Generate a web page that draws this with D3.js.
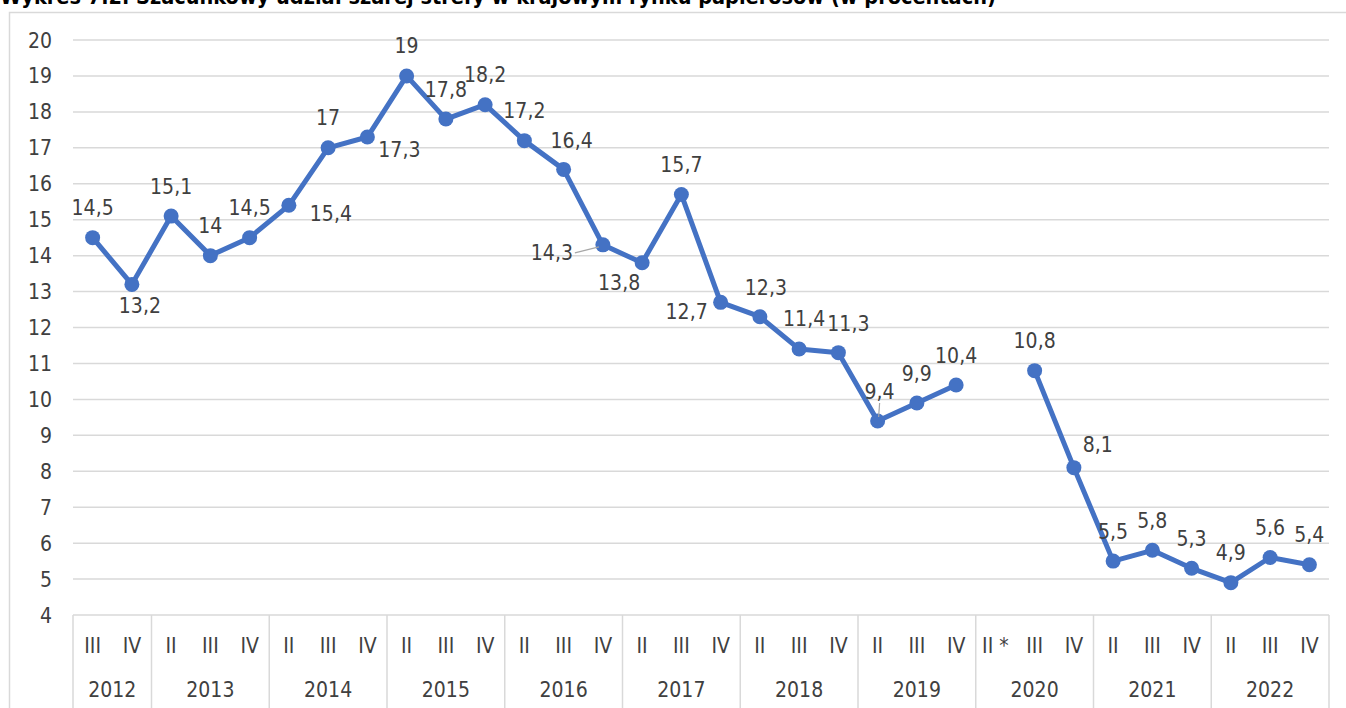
<!DOCTYPE html>
<html>
<head>
  <meta charset="utf-8">
  <title>Szara strefa - rynek papierosów</title>
  <script src="https://cdn.jsdelivr.net/npm/d3@7"></script>
  <style>
    html, body { margin: 0; padding: 0; background: #fff; overflow: hidden; }
    svg { display: block; font-family: "DejaVu Sans Condensed", "DejaVu Sans", sans-serif; }
    .grid line { stroke: #d9d9d9; stroke-width: 1.5; }
    .lbl { fill: #404040; font-size: 21px; }
  </style>
</head>
<body>
  <div id="chart"></div>
  <script>
    // quarters shown for each year, in order
    const years = ["2012", "2013", "2014", "2015", "2016", "2017", "2018", "2019", "2020", "2021", "2022"];
    const yearQuarters = [
      ["III", "IV"],
      ["II", "III", "IV"], ["II", "III", "IV"], ["II", "III", "IV"], ["II", "III", "IV"],
      ["II", "III", "IV"], ["II", "III", "IV"], ["II", "III", "IV"], ["II *", "III", "IV"],
      ["II", "III", "IV"], ["II", "III", "IV"]
    ];
    // share of grey market, % (null = no data)
    const values = [
      14.5, 13.2,
      15.1, 14, 14.5,
      15.4, 17, 17.3,
      19, 17.8, 18.2,
      17.2, 16.4, 14.3,
      13.8, 15.7, 12.7,
      12.3, 11.4, 11.3,
      9.4, 9.9, 10.4,
      null, 10.8, 8.1,
      5.5, 5.8, 5.3,
      4.9, 5.6, 5.4
    ];
    const yTicks = d3.range(4, 21);

    // label placement (offset of label centre from point), default above
    const labelShift = {
      1: [8, 21], 5: [42, 8], 7: [32, 12], 12: [8, -29], 13: [-51, 8], 14: [-23, 20],
      16: [-34, 9], 17: [6, -29], 18: [5, -31], 19: [10, -29], 20: [2, -29], 25: [24, -23]
    };
    const leaders = [13, 20];

    const W = 1346, H = 708;
    const plot = { left: 73, right: 1329, top: 40, bottom: 615 };

    const cats = [];
    yearQuarters.forEach((qs, yi) => qs.forEach(q => cats.push({ year: years[yi], q: q })));
    const data = cats.map((c, i) => ({ i: i, q: c.q, year: c.year, v: values[i] }));

    const svg = d3.select("#chart").append("svg")
      .attr("width", W).attr("height", H);

    // title (cut at the top of the picture, as in the source)
    svg.append("text")
      .attr("x", 0).attr("y", 4)
      .attr("font-size", 21.5).attr("font-weight", "bold").attr("fill", "#000")
      .text("Wykres 7.2. Szacunkowy udział szarej strefy w krajowym rynku papierosów (w procentach)");

    // outer frame
    svg.append("rect")
      .attr("x", 9.5).attr("y", 12.5).attr("width", W).attr("height", H)
      .attr("fill", "none").attr("stroke", "#d9d9d9").attr("stroke-width", 1.5);

    const x = d3.scaleBand().domain(d3.range(cats.length)).range([plot.left, plot.right]);
    const cx = i => x(i) + x.bandwidth() / 2;
    const y = d3.scaleLinear().domain([4, 20]).range([plot.bottom, plot.top]);

    // horizontal gridlines
    svg.append("g").attr("class", "grid")
      .selectAll("line").data(yTicks).join("line")
      .attr("x1", plot.left).attr("x2", plot.right)
      .attr("y1", d => y(d)).attr("y2", d => y(d));

    // y tick labels
    svg.append("g").selectAll("text").data(yTicks).join("text")
      .attr("class", "lbl")
      .attr("x", 52).attr("y", d => y(d)).attr("dy", "0.36em")
      .attr("text-anchor", "end")
      .text(d => d);

    // category axis box: separators between years
    let bounds = [0];
    yearQuarters.forEach(qs => bounds.push(bounds[bounds.length - 1] + qs.length));
    svg.append("g").attr("class", "grid")
      .selectAll("line").data(bounds).join("line")
      .attr("x1", b => plot.left + b * x.bandwidth()).attr("x2", b => plot.left + b * x.bandwidth())
      .attr("y1", plot.bottom).attr("y2", H + 5);

    svg.append("g").selectAll("text").data(data).join("text")
      .attr("class", "lbl")
      .attr("x", d => cx(d.i)).attr("y", 645).attr("dy", "0.36em")
      .attr("text-anchor", "middle")
      .text(d => d.q);

    svg.append("g").selectAll("text").data(years).join("text")
      .attr("class", "lbl")
      .attr("x", (d, k) => plot.left + (bounds[k] + bounds[k + 1]) / 2 * x.bandwidth())
      .attr("y", 689).attr("dy", "0.36em")
      .attr("text-anchor", "middle")
      .text(d => d);

    // the series
    const line = d3.line()
      .defined(d => d.v != null)
      .x(d => cx(d.i)).y(d => y(d.v));

    svg.append("path").datum(data)
      .attr("fill", "none").attr("stroke", "#4472C4").attr("stroke-width", 5)
      .attr("stroke-linejoin", "round")
      .attr("d", line);

    const pts = data.filter(d => d.v != null);

    svg.append("g").selectAll("circle").data(pts).join("circle")
      .attr("cx", d => cx(d.i)).attr("cy", d => y(d.v)).attr("r", 7.5)
      .attr("fill", "#4472C4");

    // leader lines for moved labels
    svg.append("g").selectAll("line").data(pts.filter(d => leaders.includes(d.i))).join("line")
      .attr("stroke", "#a6a6a6").attr("stroke-width", 1.2)
      .attr("x1", d => {
        const s = labelShift[d.i];
        return s[0] < -20 ? cx(d.i) + s[0] + 23 : cx(d.i) + s[0];
      })
      .attr("y1", d => {
        const s = labelShift[d.i];
        return s[0] < -20 ? y(d.v) + s[1] : y(d.v) + s[1] + 11;
      })
      .attr("x2", d => cx(d.i) - (labelShift[d.i][0] < -20 ? 4 : -1))
      .attr("y2", d => y(d.v) + (labelShift[d.i][0] < -20 ? 2 : -4));

    svg.append("g").selectAll("text").data(pts).join("text")
      .attr("class", "lbl")
      .attr("x", d => cx(d.i) + (labelShift[d.i] || [0, -30])[0])
      .attr("y", d => y(d.v) + (labelShift[d.i] || [0, -30])[1])
      .attr("dy", "0.36em")
      .attr("text-anchor", "middle")
      .text(d => String(d.v).replace(".", ","));
  </script>
</body>
</html>
